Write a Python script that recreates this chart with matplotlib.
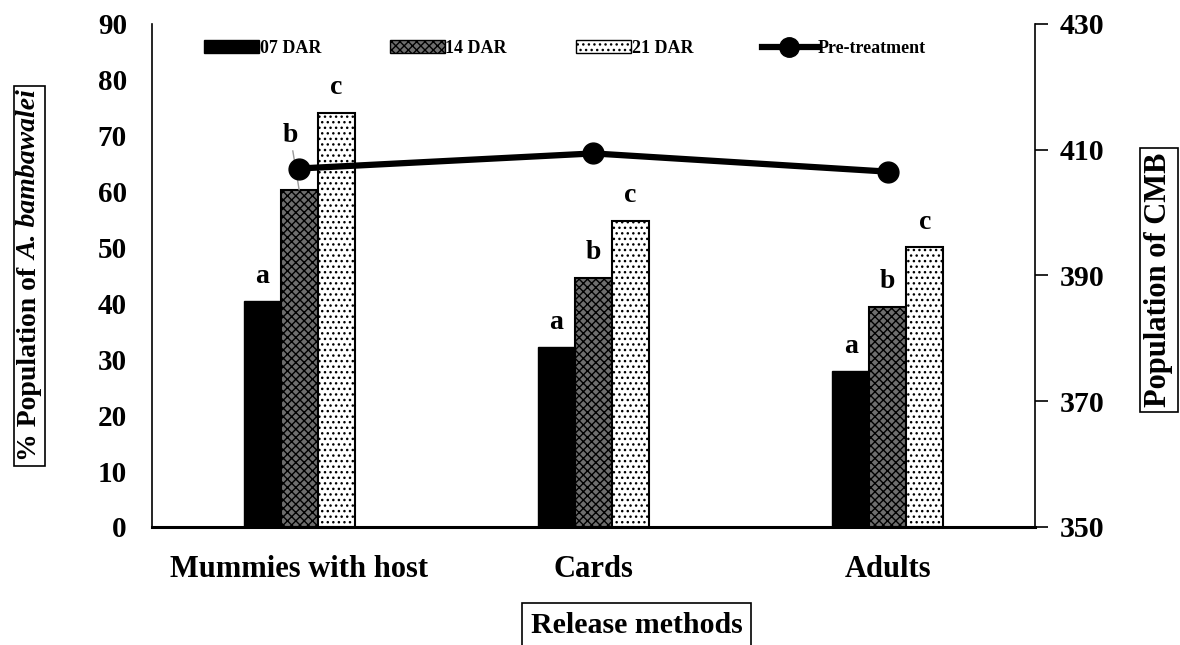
import numpy as np
import matplotlib.pyplot as plt
from matplotlib.lines import Line2D
from matplotlib.patches import Patch, Rectangle

plt.rcParams['font.family'] = ['Liberation Serif', 'DejaVu Serif']
plt.rcParams['font.weight'] = 'bold'
plt.rcParams['hatch.linewidth'] = 1.0

# datos
metodos = ['Mummies with host', 'Cards', 'Adults']
dar_07 = [40.4, 32.2, 27.9]
dar_14 = [60.3, 44.6, 39.4]
dar_21 = [74.1, 54.8, 50.0]
pre_tratamiento = [407.0, 409.4, 406.5]
letras_07 = ['a', 'a', 'a']
letras_14 = ['b', 'b', 'b']
letras_21 = ['c', 'c', 'c']

x = np.arange(len(metodos))
w = 0.126
W, H = 1180, 645

fig = plt.figure(figsize=(11.8, 6.45), dpi=100)
ax = fig.add_axes([0.1288, 0.183, 0.7483, 0.780])

ax.bar(x - w, dar_07, w, color='black', edgecolor='black', linewidth=1)
ax.bar(x, dar_14, w, color='#6e6e6e', edgecolor='black', hatch='xxxx', linewidth=1.5)
ax.bar(x + w, dar_21, w, color='white', edgecolor='black', hatch='...', linewidth=1.5)

# letras de significancia
for i in range(len(metodos)):
    ax.text(x[i] - w, dar_07[i] + 2.2, letras_07[i], ha='center', va='bottom', fontsize=20, fontweight='bold')
    ax.text(x[i] + w, dar_21[i] + 2.2, letras_21[i], ha='center', va='bottom', fontsize=20, fontweight='bold')
    if i == 0:
        ax.annotate(letras_14[i], xy=(x[i], dar_14[i]), xytext=(x[i] - 0.03, dar_14[i] + 7.5),
                    ha='center', va='bottom', fontsize=20, fontweight='bold',
                    arrowprops=dict(arrowstyle='-', color='#999999', lw=1, shrinkA=0, shrinkB=0))
    else:
        ax.text(x[i], dar_14[i] + 2.2, letras_14[i], ha='center', va='bottom', fontsize=20, fontweight='bold')

ax.set_xlim(-0.5, 2.5)
ax.set_ylim(0, 90)
ax.set_yticks(range(0, 91, 10))
ax.set_xticks(x)
ax.set_xticklabels(metodos, fontsize=22, fontweight='bold')
ax.tick_params(axis='y', length=0, labelsize=21, pad=18)
ax.tick_params(axis='x', length=0, pad=20)
ax.spines['top'].set_visible(False)
ax.spines['left'].set_linewidth(1.2)
ax.spines['bottom'].set_linewidth(2.2)
ax.spines['right'].set_visible(False)

ax2 = ax.twinx()
ax2.plot(x, pre_tratamiento, color='black', linewidth=4.5, marker='o', markersize=15)
ax2.set_ylim(350, 430)
ax2.set_yticks(range(350, 431, 20))
ax2.tick_params(axis='y', direction='out', length=9, width=1.2, labelsize=21.5, pad=9)
ax2.spines['top'].set_visible(False)
ax2.spines['left'].set_visible(False)
ax2.spines['bottom'].set_visible(False)
ax2.spines['right'].set_linewidth(1.2)

# etiqueta izquierda: parte normal + parte en cursiva, con recuadro
r = fig.canvas.get_renderer()
fs = 20
xc = 36
t1 = fig.text(xc / W, 0, '% Population of', rotation=90, rotation_mode='anchor',
              ha='left', va='baseline', fontsize=fs, fontweight='bold')
t2 = fig.text(xc / W, 0, 'A. bambawalei', rotation=90, rotation_mode='anchor',
              ha='left', va='baseline', fontsize=fs, fontweight='bold', fontstyle='italic')
h1 = t1.get_window_extent(r).height
h2 = t2.get_window_extent(r).height
gap = 0.25 * fs * 100 / 72
total = h1 + gap + h2
yc = H - 276
y0 = yc - total / 2
t1.set_position((xc / W, y0 / H))
t2.set_position((xc / W, (y0 + h1 + gap) / H))
e1 = t1.get_window_extent(r)
e2 = t2.get_window_extent(r)
bx0 = min(e1.x0, e2.x0) - 3
bx1 = max(e1.x1, e2.x1) + 3
by0 = e1.y0 - 5
by1 = e2.y1 + 5
fig.add_artist(Rectangle((bx0 / W, by0 / H), (bx1 - bx0) / W, (by1 - by0) / H,
                         transform=fig.transFigure, fill=False, edgecolor='black', linewidth=1.2))

caja = dict(boxstyle='square,pad=0.15', facecolor='white', edgecolor='black', linewidth=1.2)
fig.text(0.982, 0.566, 'Population of CMB', rotation=90, ha='center', va='center',
         fontsize=22, fontweight='bold', bbox=caja)
fig.text(0.5395, 0.030, 'Release methods', ha='center', va='center',
         fontsize=21.5, fontweight='bold', bbox=dict(boxstyle='square,pad=0.3', facecolor='white',
                                                    edgecolor='black', linewidth=1.2))

handles = [Patch(facecolor='black', edgecolor='black'),
           Patch(facecolor='#6e6e6e', edgecolor='black', hatch='xxxx'),
           Patch(facecolor='white', edgecolor='black', hatch='...'),
           Line2D([0], [0], color='black', linewidth=4.5, marker='o', markersize=14)]
etiquetas = ['07 DAR', '14 DAR', '21 DAR', 'Pre-treatment']
ax.legend(handles, etiquetas, loc='upper left', bbox_to_anchor=(0.04, 1.0), ncol=4, frameon=False,
          prop={'size': 13, 'weight': 'bold'}, handlelength=3.05, handleheight=0.75,
          handletextpad=0.05, columnspacing=3.8)

fig.savefig('out.png', dpi=100)
